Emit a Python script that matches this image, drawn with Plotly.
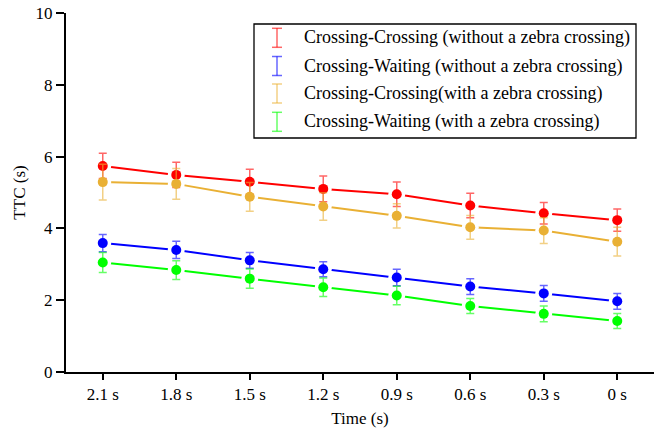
import plotly.graph_objects as go

# Time before the conflict point (x-axis categories)
time_labels = ["2.1 s", "1.8 s", "1.5 s", "1.2 s", "0.9 s", "0.6 s", "0.3 s", "0 s"]

# Mean TTC (s) and error (s) for each interaction type
cc_no_zebra = [5.74, 5.49, 5.30, 5.10, 4.95, 4.64, 4.42, 4.23]
cc_no_zebra_err = [0.35, 0.35, 0.35, 0.36, 0.34, 0.34, 0.30, 0.31]

cw_no_zebra = [3.59, 3.40, 3.11, 2.86, 2.63, 2.38, 2.19, 1.97]
cw_no_zebra_err = [0.24, 0.24, 0.22, 0.21, 0.23, 0.22, 0.22, 0.22]

cc_zebra = [5.29, 5.24, 4.88, 4.61, 4.35, 4.03, 3.94, 3.63]
cc_zebra_err = [0.50, 0.43, 0.40, 0.38, 0.34, 0.33, 0.36, 0.40]

cw_zebra = [3.05, 2.84, 2.60, 2.36, 2.13, 1.84, 1.62, 1.42]
cw_zebra_err = [0.28, 0.26, 0.27, 0.26, 0.26, 0.21, 0.22, 0.21]

series_names = [
    "Crossing-Crossing (without a zebra crossing)",
    "Crossing-Waiting (without a zebra crossing)",
    "Crossing-Crossing(with a zebra crossing)",
    "Crossing-Waiting (with a zebra crossing)",
]
series_values = [cc_no_zebra, cw_no_zebra, cc_zebra, cw_zebra]
series_errors = [cc_no_zebra_err, cw_no_zebra_err, cc_zebra_err, cw_zebra_err]
series_colors = ["#FF0000", "#0000FF", "#E9B034", "#00FF00"]
errbar_colors = ["rgba(255,0,0,0.6)", "rgba(0,0,255,0.6)",
                 "rgba(233,176,52,0.6)", "rgba(0,255,0,0.6)"]

x_idx = list(range(len(time_labels)))
FONT = "Liberation Serif, Times New Roman, serif"

fig = go.Figure()

# connecting lines
for vals, col in zip(series_values, series_colors):
    fig.add_trace(go.Scatter(x=x_idx, y=vals, mode="lines",
                             line=dict(color=col, width=2),
                             showlegend=False, hoverinfo="skip"))

# white halos leave a small gap between line and marker
for vals in series_values:
    fig.add_trace(go.Scatter(x=x_idx, y=vals, mode="markers",
                             marker=dict(color="white", size=17),
                             showlegend=False, hoverinfo="skip"))

# markers with error bars
for name, vals, errs, col, ecol in zip(series_names, series_values,
                                       series_errors, series_colors,
                                       errbar_colors):
    fig.add_trace(go.Scatter(
        x=x_idx, y=vals, mode="markers", name=name,
        marker=dict(color=col, size=10),
        error_y=dict(type="data", array=errs, visible=True,
                     color=ecol, thickness=1.5, width=4),
        showlegend=False,
    ))

# plot area in pixels
L, R, T, B = 66, 654, 13, 372
W_PX, H_PX = 654, 430


def px_x(px):
    return (px - L) / (R - L)


def px_y(py):
    return (B - py) / (B - T)


shapes = []
annotations = []

# legend frame
shapes.append(dict(type="rect", xref="paper", yref="paper",
                   x0=px_x(254), x1=px_x(636), y0=px_y(138), y1=px_y(24),
                   line=dict(color="black", width=1.3),
                   fillcolor="white", layer="above"))

row_centers = [37.8, 66.0, 93.5, 121.8]
icon_x = 277
icon_half_h = 9.5
cap_half_w = 5
for name, ecol, cy in zip(series_names, errbar_colors, row_centers):
    # I-beam icon (error bar glyph)
    shapes.append(dict(type="line", xref="paper", yref="paper",
                       x0=px_x(icon_x), x1=px_x(icon_x),
                       y0=px_y(cy - icon_half_h), y1=px_y(cy + icon_half_h),
                       line=dict(color=ecol, width=1.5), layer="above"))
    for dy in (-icon_half_h, icon_half_h):
        shapes.append(dict(type="line", xref="paper", yref="paper",
                           x0=px_x(icon_x - cap_half_w),
                           x1=px_x(icon_x + cap_half_w),
                           y0=px_y(cy + dy), y1=px_y(cy + dy),
                           line=dict(color=ecol, width=1.5), layer="above"))
    annotations.append(dict(text=name, xref="paper", yref="paper",
                            x=px_x(302), y=px_y(cy), xanchor="left",
                            yanchor="middle", showarrow=False,
                            font=dict(family=FONT, size=18, color="black")))

fig.update_layout(
    width=W_PX, height=H_PX,
    margin=dict(l=L, r=W_PX - R, t=T, b=H_PX - B, pad=0),
    paper_bgcolor="white", plot_bgcolor="white",
    font=dict(family=FONT, size=17, color="black"),
    shapes=shapes, annotations=annotations,
    showlegend=False,
    xaxis=dict(
        range=[-0.5, len(time_labels) - 0.5],
        tickmode="array", tickvals=x_idx, ticktext=time_labels,
        showgrid=False, zeroline=False,
        showline=True, linecolor="black", linewidth=2,
        ticks="outside", ticklen=6, tickwidth=2, tickcolor="black",
        tickfont=dict(family=FONT, size=17),
        title=dict(text="Time (s)", font=dict(family=FONT, size=17),
                   standoff=9),
    ),
    yaxis=dict(
        range=[0, 10], tickvals=[0, 2, 4, 6, 8, 10],
        showgrid=False, zeroline=False,
        showline=True, linecolor="black", linewidth=2,
        ticks="outside", ticklen=8, tickwidth=2, tickcolor="black",
        tickfont=dict(family=FONT, size=17),
        title=dict(text="TTC (s)", font=dict(family=FONT, size=17),
                   standoff=6),
    ),
)

fig.write_html("out.html")
